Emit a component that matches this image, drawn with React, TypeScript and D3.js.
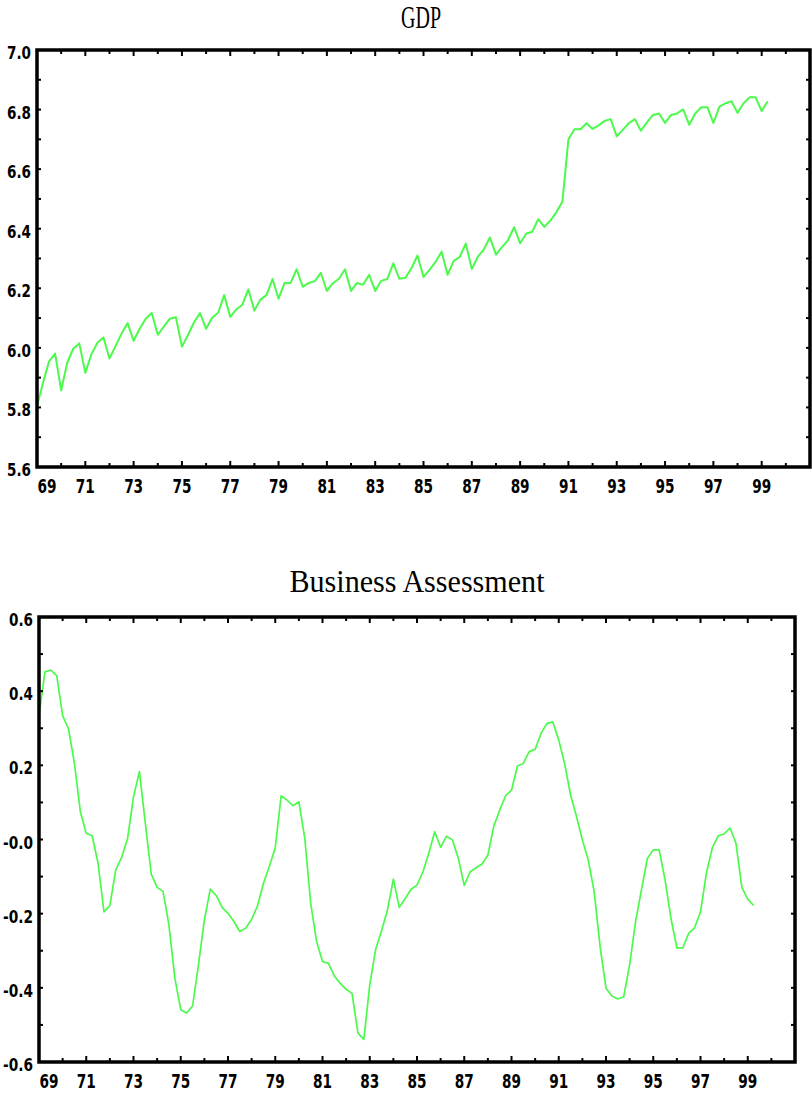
import React from "react";
import * as d3 from "d3";

const gdp: number[] = [
  5.805, 5.883, 5.955, 5.981, 5.857, 5.95, 5.997, 6.015, 5.916, 5.978,
  6.017, 6.035, 5.964, 6.006, 6.048, 6.083, 6.024, 6.064, 6.098, 6.117,
  6.044, 6.071, 6.098, 6.103, 6.004, 6.043, 6.086, 6.117, 6.064, 6.101,
  6.118, 6.177, 6.104, 6.129, 6.145, 6.196, 6.125, 6.162, 6.177, 6.231,
  6.165, 6.218, 6.218, 6.264, 6.205, 6.218, 6.224, 6.252, 6.191, 6.217,
  6.232, 6.264, 6.191, 6.218, 6.212, 6.245, 6.191, 6.225, 6.231, 6.284,
  6.232, 6.235, 6.267, 6.31, 6.238, 6.262, 6.289, 6.323, 6.245, 6.292,
  6.305, 6.35, 6.265, 6.306, 6.331, 6.371, 6.313, 6.338, 6.362, 6.405,
  6.351, 6.383, 6.39, 6.432, 6.406, 6.427, 6.455, 6.491, 6.7, 6.734,
  6.734, 6.754, 6.735, 6.747, 6.762, 6.768, 6.71, 6.732, 6.754, 6.768,
  6.729, 6.757, 6.782, 6.787, 6.755, 6.782, 6.787, 6.801, 6.749, 6.787,
  6.808, 6.808, 6.755, 6.81, 6.821, 6.828, 6.789, 6.821, 6.841, 6.841,
  6.795, 6.828,
];

const business: number[] = [
  0.334, 0.452, 0.457, 0.442, 0.334, 0.298, 0.205, 0.075, 0.017, 0.01,
  -0.064, -0.195, -0.178, -0.081, -0.048, 0.003, 0.115, 0.183, 0.044, -0.093,
  -0.129, -0.14, -0.231, -0.374, -0.459, -0.468, -0.449, -0.338, -0.217, -0.134,
  -0.151, -0.183, -0.199, -0.221, -0.248, -0.239, -0.215, -0.179, -0.118, -0.073,
  -0.022, 0.118, 0.106, 0.091, 0.102, 0.003, -0.172, -0.275, -0.329, -0.334,
  -0.368, -0.388, -0.404, -0.415, -0.522, -0.539, -0.392, -0.296, -0.246, -0.19,
  -0.107, -0.183, -0.159, -0.134, -0.123, -0.087, -0.037, 0.021, -0.021, 0.009,
  -0.001, -0.051, -0.124, -0.087, -0.076, -0.066, -0.042, 0.036, 0.079, 0.118,
  0.133, 0.198, 0.205, 0.237, 0.243, 0.286, 0.313, 0.317, 0.268, 0.205,
  0.12, 0.062, -0.001, -0.055, -0.141, -0.289, -0.401, -0.422, -0.43, -0.424,
  -0.338, -0.222, -0.136, -0.051, -0.028, -0.028, -0.109, -0.213, -0.292, -0.292,
  -0.253, -0.238, -0.195, -0.091, -0.022, 0.01, 0.015, 0.031, -0.01, -0.129,
  -0.161, -0.178,
];

const startYear = 1969;
const endYear = 2001;
const yearLabels: string[] = ["69", "71", "73", "75", "77", "79", "81", "83", "85", "87", "89", "91", "93", "95", "97", "99"];
const gdpTickLabels: string[] = ["7.0", "6.8", "6.6", "6.4", "6.2", "6.0", "5.8", "5.6"];
const busTickLabels: string[] = ["0.6", "0.4", "0.2", "-0.0", "-0.2", "-0.4", "-0.6"];

const LINE_COLOR = "#4cfa4c";
const LABEL_FONT = "'Liberation Sans Narrow', 'DejaVu Sans Condensed', 'Liberation Sans', sans-serif";

type PanelProps = {
  title: string;
  titleWidth: number;
  titleY: number;
  titleX: number;
  values: number[];
  yDomain: [number, number];
  yLabels: string[];
  box: { left: number; right: number; top: number; bottom: number };
  lineWidth: number;
};

function Panel({ title, titleWidth, titleY, titleX, values, yDomain, yLabels, box, lineWidth }: PanelProps) {
  const x = d3.scaleLinear().domain([startYear, endYear]).range([box.left, box.right]);
  const y = d3.scaleLinear().domain(yDomain).range([box.bottom, box.top]);
  const line = d3
    .line<number>()
    .x((_, i) => x(startYear + i / 4))
    .y((d) => y(d));

  const years = d3.range(startYear, endYear + 1);
  const nMinor = Math.round((yDomain[1] - yDomain[0]) / 0.1);
  const yTicks = d3.range(0, nMinor + 1).map((k) => yDomain[0] + k * 0.1);
  const majorY = d3.range(0, yLabels.length).map((k) => yDomain[1] - k * 0.2);

  return (
    <g>
      <text
        x={titleX}
        y={titleY}
        textAnchor="middle"
        fontFamily="'Liberation Serif', 'DejaVu Serif', serif"
        fontSize={31}
        textLength={titleWidth}
        lengthAdjust="spacingAndGlyphs"
        fill="#000"
      >
        {title}
      </text>
      <path d={line(values) ?? ""} fill="none" stroke={LINE_COLOR} strokeWidth={lineWidth} strokeLinejoin="round" />
      {years.map((yr) => {
        const major = (yr - startYear) % 2 === 0;
        const len = major ? 6 : 4;
        const xx = x(yr);
        return (
          <g key={`xt${yr}`}>
            <line x1={xx} x2={xx} y1={box.bottom} y2={box.bottom - len} stroke="#000" strokeWidth={2} />
            <line x1={xx} x2={xx} y1={box.top} y2={box.top + len} stroke="#000" strokeWidth={2} />
          </g>
        );
      })}
      {yTicks.map((v, k) => {
        const yy = y(v);
        return (
          <g key={`yt${k}`}>
            <line x1={box.left} x2={box.left + 4} y1={yy} y2={yy} stroke="#000" strokeWidth={2} />
            <line x1={box.right} x2={box.right - 4} y1={yy} y2={yy} stroke="#000" strokeWidth={2} />
          </g>
        );
      })}
      <rect
        x={box.left}
        y={box.top}
        width={box.right - box.left}
        height={box.bottom - box.top}
        fill="none"
        stroke="#000"
        strokeWidth={3.5}
      />
      {yLabels.map((lab, k) => (
        <text
          key={`yl${k}`}
          x={box.left - 6}
          y={y(majorY[k]) + 9}
          textAnchor="end"
          fontFamily={LABEL_FONT}
          fontWeight="bold"
          fontSize={17}
          textLength={lab.length > 3 ? 30 : 24}
          lengthAdjust="spacingAndGlyphs"
          fill="#000"
        >
          {lab}
        </text>
      ))}
      {yearLabels.map((lab, k) => {
        const yr = startYear + k * 2;
        const xx = x(yr) + (k === 0 ? 10 : 0);
        return (
          <text
            key={`xl${k}`}
            x={xx}
            y={box.bottom + 26}
            textAnchor="middle"
            fontFamily={LABEL_FONT}
            fontWeight="bold"
            fontSize={20}
            textLength={19}
            lengthAdjust="spacingAndGlyphs"
            fill="#000"
          >
            {lab}
          </text>
        );
      })}
    </g>
  );
}

export default function App() {
  return (
    <svg
      width={812}
      height={1095}
      viewBox="0 0 812 1095"
      style={{ position: "absolute", left: 0, top: 0, background: "#fff" }}
    >
      <rect x={0} y={0} width={812} height={1095} fill="#fff" />
      <Panel
        title="GDP"
        titleWidth={40}
        titleX={421}
        titleY={28}
        values={gdp}
        yDomain={[5.6, 7.0]}
        yLabels={gdpTickLabels}
        box={{ left: 37, right: 810, top: 50, bottom: 467 }}
        lineWidth={2}
      />
      <Panel
        title="Business Assessment"
        titleWidth={255}
        titleX={417}
        titleY={592}
        values={business}
        yDomain={[-0.6, 0.6]}
        yLabels={busTickLabels}
        box={{ left: 39, right: 795, top: 617, bottom: 1062 }}
        lineWidth={1.7}
      />
    </svg>
  );
}
